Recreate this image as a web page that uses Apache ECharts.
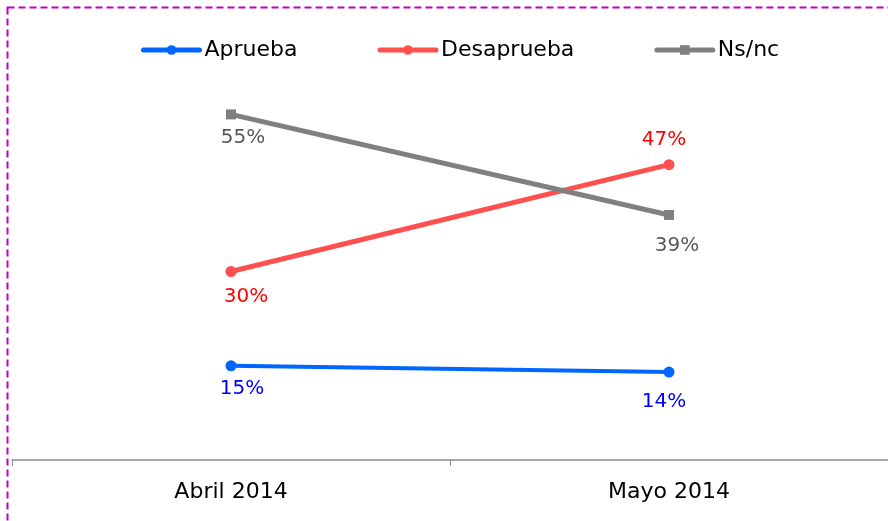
<!DOCTYPE html>
<html>
<head>
<meta charset="utf-8">
<script src="https://cdn.jsdelivr.net/npm/echarts@6/dist/echarts.min.js"></script>
<style>
  html, body { margin: 0; padding: 0; background: #fff; }
  #chart { width: 888px; height: 521px; }
</style>
</head>
<body>
<div id="chart"></div>
<script>
  // datos
  var categories = ['Abril 2014', 'Mayo 2014'];
  var aprueba = [15, 14];
  var desaprueba = [30, 47];
  var nsnc = [55, 39];

  var chart = echarts.init(document.getElementById('chart'));
  var font = 'DejaVu Sans';

  // posicion de cada etiqueta: [position, distance, dx]
  function labelData(values, place, color) {
    return values.map(function (v, i) {
      return {
        value: v,
        label: { position: place[i][0], distance: place[i][1], offset: [place[i][2], 0], color: color }
      };
    });
  }

  var option = {
    animation: false,
    graphic: [{
      type: 'rect',
      shape: { x: 7.5, y: 7.5, width: 1000, height: 1000 },
      style: { fill: 'none', stroke: '#BF00BF', lineWidth: 2, lineDash: [7, 4] },
      silent: true
    }],
    legend: {
      top: 34,
      left: 136,
      itemWidth: 56,
      itemHeight: 12,
      itemGap: 80,
      lineStyle: { width: 5, cap: 'round' },
      textStyle: { fontFamily: font, fontSize: 22, color: '#000' },
      data: ['Aprueba', 'Desaprueba', 'Ns/nc']
    },
    grid: { left: 12, right: 0, top: 83, bottom: 61 },
    xAxis: {
      type: 'category',
      data: categories,
      boundaryGap: true,
      axisLine: { lineStyle: { color: '#8c8c8c', width: 1.5 } },
      axisTick: { show: true, length: 6, lineStyle: { color: '#8c8c8c' } },
      axisLabel: { fontFamily: font, fontSize: 22, color: '#000', margin: 21 }
    },
    yAxis: {
      type: 'value',
      min: 0,
      max: 60,
      show: false,
      splitLine: { show: false }
    },
    series: [
      {
        name: 'Aprueba',
        type: 'line',
        data: labelData(aprueba, [['bottom', 8, 11], ['bottom', 14, -5]], '#0000FF'),
        symbol: 'circle',
        symbolSize: 11,
        itemStyle: { color: '#0066FF' },
        lineStyle: { color: '#0066FF', width: 4 },
        label: { show: true, formatter: '{c}%', fontFamily: font, fontSize: 20 }
      },
      {
        name: 'Desaprueba',
        type: 'line',
        data: labelData(desaprueba, [['bottom', 10, 15], ['top', 9, -5]], '#FF0000'),
        symbol: 'circle',
        symbolSize: 11,
        itemStyle: { color: '#FF5050' },
        lineStyle: { color: '#FF5050', width: 5 },
        label: { show: true, formatter: '{c}%', fontFamily: font, fontSize: 20 }
      },
      {
        name: 'Ns/nc',
        type: 'line',
        data: labelData(nsnc, [['bottom', 8, 12], ['bottom', 16, 8]], '#595959'),
        symbol: 'rect',
        symbolSize: 10,
        itemStyle: { color: '#808080' },
        lineStyle: { color: '#808080', width: 5 },
        label: { show: true, formatter: '{c}%', fontFamily: font, fontSize: 20 }
      }
    ]
  };

  chart.setOption(option);
</script>
</body>
</html>
